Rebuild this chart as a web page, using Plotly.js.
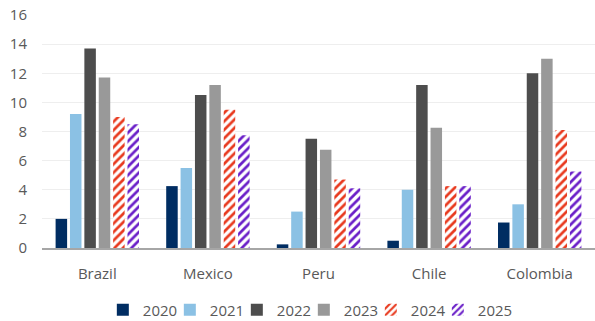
<!DOCTYPE html>
<html><head><meta charset="utf-8">
<script src="https://cdn.plot.ly/plotly-3.0.1.min.js"></script>
<style>html,body{margin:0;padding:0;background:#fff}#chart{width:595px;height:321px}</style>
</head><body><div id="chart"></div>
<script>
const countries = ["Brazil", "Mexico", "Peru", "Chile", "Colombia"];
const years = ["2020", "2021", "2022", "2023", "2024", "2025"];
const v2020 = [2.0, 4.25, 0.25, 0.5, 1.75];
const v2021 = [9.2, 5.5, 2.5, 4.0, 3.0];
const v2022 = [13.7, 10.5, 7.5, 11.2, 12.0];
const v2023 = [11.7, 11.2, 6.75, 8.25, 13.0];
const v2024 = [9.0, 9.5, 4.7, 4.25, 8.1];
const v2025 = [8.5, 7.75, 4.1, 4.25, 5.25];
const yTicks = [0, 2, 4, 6, 8, 10, 12, 14, 16];

const series = [v2020, v2021, v2022, v2023, v2024, v2025];
const colors = ["#002D62", "#8BC1E4", "#4D4D4D", "#999999", "#E8391E", "#6A1FC8"];
const patterned = [false, false, false, false, true, true];

const traces = series.map((vals, i) => {
  const t = {type: "bar", name: years[i], x: countries, y: vals,
    marker: {color: colors[i], line: {width: 0}}};
  if (patterned[i]) {
    t.marker = {color: "#ffffff", line: {width: 0},
      pattern: {shape: "/", fgcolor: colors[i], bgcolor: "#ffffff", size: 6, solidity: 0.45}};
  }
  return t;
});
// spacer entry so the last legend label is not clipped
traces.push({type: "scatter", mode: "markers", name: " ", x: [null], y: [null],
  marker: {color: "rgba(0,0,0,0)", size: 1}, hoverinfo: "skip"});

const layout = {
  width: 595, height: 321,
  margin: {l: 42, r: 0, t: 15, b: 73, autoexpand: false},
  paper_bgcolor: "#fff", plot_bgcolor: "#fff",
  font: {family: "Open Sans, sans-serif", size: 15, color: "#595959"},
  barmode: "group", bargap: 0.22, bargroupgap: 0.2,
  xaxis: {showline: true, linecolor: "#a6a6a6", linewidth: 2, ticks: "", automargin: false,
    ticklabelstandoff: 11, tickfont: {size: 15, color: "#595959"}},
  yaxis: {range: [0, 16], tickvals: yTicks, showgrid: true, gridcolor: "#eeeeee", gridwidth: 1,
    zeroline: false, showline: false, ticks: "", automargin: false, ticklabelstandoff: 14,
    tickfont: {size: 15, color: "#595959"}},
  legend: {orientation: "h", x: 0.110, xanchor: "left", y: -0.266, yanchor: "middle",
    font: {size: 15, color: "#595959"}, itemwidth: 30, entrywidth: 22, entrywidthmode: "pixels",
    tracegroupgap: 0},
  showlegend: true
};
Plotly.newPlot("chart", traces, layout, {displayModeBar: false, staticPlot: true});
</script></body></html>
